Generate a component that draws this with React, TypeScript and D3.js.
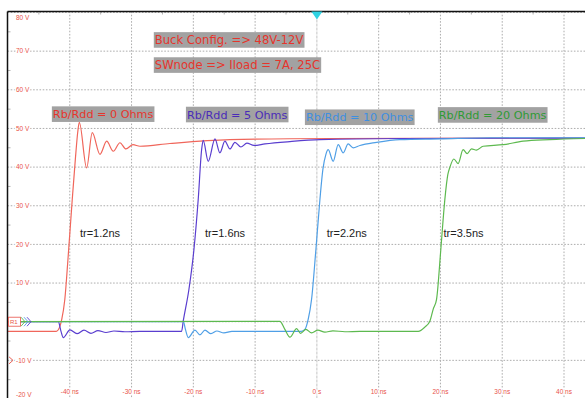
import React, {useEffect, useRef} from 'react';
import * as d3 from 'd3';

// switching node waveforms, time in ns, voltage in V
const rb0Ohm: [number, number][] = [
    [-50, -2.5], [-42.2, -2.5], [-41.6, -1.2], [-41.3, 0.6], [-40.8, 5.8], [-40.3, 16],
    [-39.6, 31.6], [-39.1, 42], [-38.7, 49.2], [-38.46, 51.6], [-37.27, 39.8], [-36.36, 48.9],
    [-35.11, 43.3], [-34.03, 46.7], [-32.96, 44.1], [-31.88, 46.3], [-30.91, 44.7], [-29.77, 45.8],
    [-28.64, 45.4], [-23.79, 46.1], [-14.08, 47.1], [2.1, 47.4], [43.4, 47.5]
]

const rb5Ohm: [number, number][] = [
    [-50, 0], [-42.1, 0], [-41.86, 0], [-41.42, -2.5], [-41.05, -4.1], [-39.97, -2.1],
    [-38.83, -3.1], [-37.7, -2.2], [-36.57, -3.0], [-35.44, -2.3], [-34.14, -2.8], [-32.85, -2.4],
    [-31.07, -2.6], [-28.64, -2.5], [-21.9, -2.5], [-21.63, 0.2], [-20.71, 8.4], [-19.9, 18.7],
    [-19.21, 31.6], [-18.66, 44.5], [-18.4, 46.9], [-17.59, 41.5], [-16.5, 47.3], [-15.7, 43.7],
    [-14.89, 46.7], [-14.08, 44.7], [-13.27, 46.4], [-12.3, 45.2], [-11.33, 46.2], [-10.19, 45.6],
    [-8.4, 46], [-4.37, 46.6], [0.49, 47.1], [13.4, 47.4], [43.4, 47.5]
]

const rb10Ohm: [number, number][] = [
    [-50, 0], [-21.95, 0], [-21.63, 0.1], [-21.28, -2.0], [-20.82, -4.1], [-19.74, -2.2],
    [-18.93, -3.4], [-18.12, -2.2], [-17.15, -3.1], [-16.18, -2.4], [-15.05, -2.9], [-13.75, -2.5],
    [-2.54, -2.5], [-1.94, -2.0], [-1.41, 0.6], [-0.86, 5.8], [-0.16, 18.7], [0.49, 31.6],
    [0.97, 39.4], [1.46, 43.3], [1.83, 44.5], [2.64, 41.5], [3.45, 45.8], [4.26, 43.7],
    [5.06, 46.0], [5.87, 45.0], [6.96, 45.6], [9.66, 46.4], [13.43, 47.1], [19.9, 47.3],
    [28.0, 47.6], [43.4, 47.6]
]

const rb20Ohm: [number, number][] = [
    [-50, 0], [-5.99, 0.1], [-5.18, -2.0], [-4.37, -4.0], [-3.28, -1.8], [-2.64, -3.0],
    [-1.78, -2.0], [-0.86, -2.9], [0.16, -2.2], [1.29, -2.7], [2.59, -2.35], [4.53, -2.6],
    [6.96, -2.5], [16.4, -2.5], [17.48, -1.4], [18.28, 0.1], [18.82, 3.2], [19.37, 5.8],
    [20.06, 18.7], [20.71, 31.6], [21.2, 38.1], [21.52, 39.9], [22.17, 42.1], [22.86, 40.9],
    [23.67, 44.5], [24.32, 43.5], [25.03, 44.7], [25.84, 44.4], [26.91, 45.4], [30.15, 45.8],
    [33.38, 46.7], [37.7, 47.1], [43.4, 47.4]
]

const seriesNames = ['Rb/Rdd = 0 Ohms', 'Rb/Rdd = 5 Ohms', 'Rb/Rdd = 10 Ohms', 'Rb/Rdd = 20 Ohms']
const riseTimes = ['tr=1.2ns', 'tr=1.6ns', 'tr=2.2ns', 'tr=3.5ns']
const titleLines = ['Buck Config. => 48V-12V', 'SWnode => Iload = 7A, 25C']

const voltTicks = [-20, -10, 0, 10, 20, 30, 40, 50, 60, 70, 80]
// the 0 V label is hidden under the channel marker on the scope
const voltTickLabels = [-20, -10, 10, 20, 30, 40, 50, 60, 70, 80]
const timeTicks = [-40, -30, -20, -10, 0, 10, 20, 30, 40]
const timeTickLabels = ['-40 ns', '-30 ns', '-20 ns', '-10 ns', '0 s', '10 ns', '20 ns', '30 ns', '40 ns']

const Scope = () => {

    const svgRef = useRef(null)

    const width = 585
    const height = 398

    const traceColors = ['#f0665b', '#5a3ecf', '#4f9fe6', '#5db94f']
    const labelColors = ['#e6352c', '#4a2cb8', '#3f8fe0', '#2f9a35']

    // where the annotations sit, in data units (ns, V)
    const nameSpots = [[-42.9, 53.7], [-21.2, 53.6], [-1.94, 52.9], [19.58, 53.5]]
    const riseSpots = [[-38.35, 21.8], [-18.1, 21.8], [1.6, 21.8], [20.5, 21.8]]
    const titleSpots = [[-26.4, 72.9], [-26.4, 66.4]]

    useEffect(() => {

        const svg = d3.select(svgRef.current)
            .attr('width', width)
            .attr('height', height)

        svg.selectAll('*').remove()

        const xScale = d3.scaleLinear()
            .domain([-50, 40])
            .range([8, 564])

        const yScale = d3.scaleLinear()
            .domain([-20, 80])
            .range([399, 12.5])

        const left = 7.5
        const top = 11.5

        svg.append('defs')
            .append('clipPath')
            .attr('id', 'plot-clip')
            .append('rect')
            .attr('x', left)
            .attr('y', top)
            .attr('width', width - left)
            .attr('height', height - top)

        const grid = svg.append('g').attr('class', 'grid')

        grid.selectAll('.hgrid')
            .data(voltTicks)
            .join('line')
            .attr('class', 'hgrid')
            .attr('x1', left)
            .attr('x2', width)
            .attr('y1', d => yScale(d))
            .attr('y2', d => yScale(d))
            .attr('stroke', '#adadad')
            .attr('stroke-width', 1)
            .attr('stroke-dasharray', '1.6,1.6')

        grid.selectAll('.vgrid')
            .data(timeTicks)
            .join('line')
            .attr('class', 'vgrid')
            .attr('x1', d => xScale(d))
            .attr('x2', d => xScale(d))
            .attr('y1', top)
            .attr('y2', height)
            .attr('stroke', d => d === 0 ? '#c4c4c4' : '#adadad')
            .attr('stroke-width', 1)
            .attr('stroke-dasharray', d => d === 0 ? '3,1' : '1.6,1.6')

        // little minor ticks on the frame
        const minorT = d3.range(-45, 45, 10)
        grid.selectAll('.tminor')
            .data(minorT)
            .join('line')
            .attr('x1', d => xScale(d))
            .attr('x2', d => xScale(d))
            .attr('y1', top)
            .attr('y2', top + 3)
            .attr('stroke', '#b3b3b3')

        const minorV = d3.range(-15, 80, 10)
        grid.selectAll('.vminor')
            .data(minorV)
            .join('line')
            .attr('x1', left)
            .attr('x2', left + 3)
            .attr('y1', d => yScale(d))
            .attr('y2', d => yScale(d))
            .attr('stroke', '#b3b3b3')

        // voltage tick labels
        const vLabels = svg.append('g')
            .style('font-family', 'Liberation Sans, Arial, sans-serif')
            .style('font-size', '6.5px')
            .attr('fill', '#e8534a')

        vLabels.selectAll('text')
            .data(voltTickLabels)
            .join('text')
            .attr('x', 16)
            .attr('y', d => d === 80 ? yScale(d) + 7.5 : d === -20 ? yScale(d) - 2 : yScale(d) + 2.3)
            .attr('stroke', 'white')
            .attr('stroke-width', 3)
            .attr('paint-order', 'stroke')
            .text(d => `${d} V`)

        svg.append('g')
            .style('font-family', 'Liberation Sans, Arial, sans-serif')
            .style('font-size', '6.5px')
            .attr('fill', '#e8534a')
            .selectAll('text')
            .data(timeTicks)
            .join('text')
            .attr('x', d => xScale(d))
            .attr('y', 394)
            .attr('text-anchor', 'middle')
            .attr('stroke', 'white')
            .attr('stroke-width', 2)
            .attr('paint-order', 'stroke')
            .text((d, i) => timeTickLabels[i])

        // traces
        const lineGenerator = d3.line()
            .x(d => xScale(d[0]))
            .y(d => yScale(d[1]))
            .curve(d3.curveMonotoneX)

        const traces = svg.append('g').attr('clip-path', 'url(#plot-clip)')

        traces.selectAll('.trace')
            .data([rb0Ohm, rb5Ohm, rb10Ohm, rb20Ohm])
            .join('path')
            .attr('class', 'trace')
            .attr('d', d => lineGenerator(d))
            .attr('fill', 'none')
            .attr('stroke', (d, i) => traceColors[i])
            .attr('stroke-width', 1.2)
            .attr('stroke-linejoin', 'round')

        // grey boxed labels
        const boxed = (g, txt, x, yMid, color, size) => {
            const t = g.append('text')
                .attr('x', x + 1)
                .attr('y', yMid)
                .attr('dy', '0.36em')
                .attr('fill', color)
                .style('font-family', 'DejaVu Sans, Verdana, sans-serif')
                .style('font-size', size)
                .text(txt)
            const bb = t.node().getBBox()
            g.insert('rect', 'text')
                .attr('x', x)
                .attr('y', yMid - 7.8)
                .attr('width', bb.width + 2)
                .attr('height', 15.6)
                .attr('fill', '#a2a2a2')
        }

        titleLines.forEach((txt, i) => {
            const g = svg.append('g')
            boxed(g, txt, xScale(titleSpots[i][0]), yScale(titleSpots[i][1]), labelColors[0], '11.6px')
        })

        seriesNames.forEach((txt, i) => {
            const g = svg.append('g')
            boxed(g, txt, xScale(nameSpots[i][0]), yScale(nameSpots[i][1]), labelColors[i], '11.2px')
        })

        svg.append('g')
            .style('font-family', 'Liberation Sans, Arial, sans-serif')
            .style('font-size', '11px')
            .attr('fill', '#222')
            .selectAll('text')
            .data(riseTimes)
            .join('text')
            .attr('x', (d, i) => xScale(riseSpots[i][0]))
            .attr('y', (d, i) => yScale(riseSpots[i][1]))
            .text(d => d)

        // frame
        svg.append('line')
            .attr('x1', left).attr('x2', width)
            .attr('y1', top).attr('y2', top)
            .attr('stroke', '#111').attr('stroke-width', 1.5)
        svg.append('line')
            .attr('x1', left).attr('x2', left)
            .attr('y1', top).attr('y2', height)
            .attr('stroke', '#111').attr('stroke-width', 1.5)

        // trigger position marker
        const tx = xScale(0)
        svg.append('path')
            .attr('d', `M${tx - 5.5},${top} L${tx + 5.5},${top} L${tx},${top + 8} Z`)
            .attr('fill', '#2fd3e3')

        // reference marker for the channels
        const zy = yScale(0)
        const marker = svg.append('g')
        marker.append('rect')
            .attr('x', 8.5).attr('y', zy - 4.5)
            .attr('width', 12).attr('height', 9)
            .attr('fill', 'white')
            .attr('stroke', '#e8534a').attr('stroke-width', 0.8)
        marker.append('text')
            .attr('x', 10).attr('y', zy + 2.3)
            .style('font-family', 'Liberation Sans, Arial, sans-serif')
            .style('font-size', '6px')
            .attr('fill', '#e8534a')
            .text('R1')
        ;['#5db94f', '#4f9fe6', '#5a3ecf'].forEach((c, i) => {
            const cx = 21 + i * 3
            marker.append('polyline')
                .attr('points', `${cx},${zy - 4.5} ${cx + 4},${zy} ${cx},${zy + 4.5}`)
                .attr('fill', 'none')
                .attr('stroke', c)
                .attr('stroke-width', 0.9)
        })

        // trigger level marker
        const ly = yScale(-10)
        svg.append('polyline')
            .attr('points', `9,${ly - 3.5} 13,${ly} 9,${ly + 3.5}`)
            .attr('fill', 'none')
            .attr('stroke', '#e8534a')
            .attr('stroke-width', 0.9)

    }, [])

    return (
        <div style={{position: 'absolute', left: 0, top: 0, width: width, height: height, background: 'white'}}>
            <svg ref={svgRef} style={{display: 'block'}} />
        </div>
    )
}

export default function App() {
    return <Scope />
}
